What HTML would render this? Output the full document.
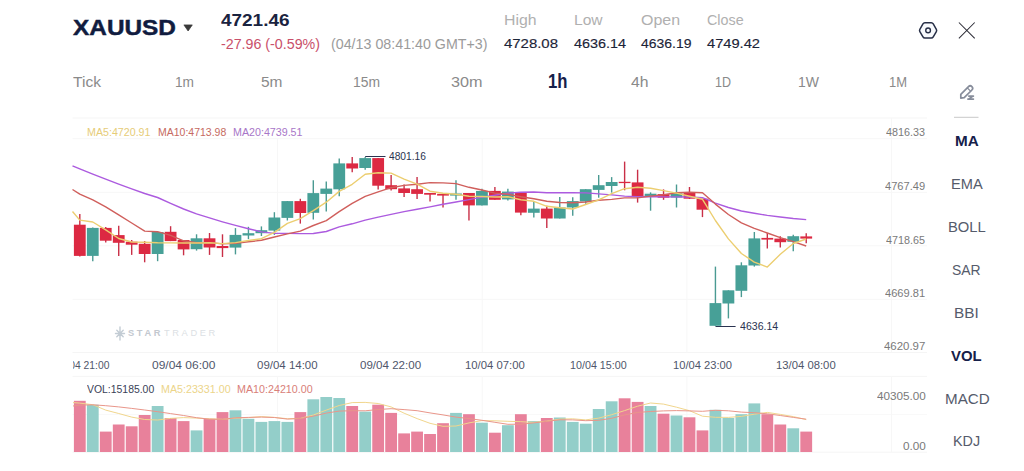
<!DOCTYPE html>
<html><head><meta charset="utf-8"><title>XAUUSD</title>
<style>
html,body{margin:0;padding:0;background:#fff;}
body{width:1024px;height:471px;position:relative;overflow:hidden;font-family:"Liberation Sans",sans-serif;}
span{position:absolute;white-space:nowrap;line-height:1;transform-origin:0 0;display:block;}
svg{position:absolute;left:0;top:0;}
</style></head><body>
<svg width="1024" height="471" viewBox="0 0 1024 471">
<line x1="72.5" y1="138.7" x2="927" y2="138.7" stroke="#f7f7f7" stroke-width="1"/>
<line x1="72.5" y1="192.3" x2="927" y2="192.3" stroke="#f7f7f7" stroke-width="1"/>
<line x1="72.5" y1="245.8" x2="927" y2="245.8" stroke="#f7f7f7" stroke-width="1"/>
<line x1="72.5" y1="299.3" x2="927" y2="299.3" stroke="#f7f7f7" stroke-width="1"/>
<line x1="72.5" y1="118" x2="927" y2="118" stroke="#f5f5f5" stroke-width="1"/>
<line x1="72.5" y1="352.5" x2="927" y2="352.5" stroke="#f5f5f5" stroke-width="1"/>
<line x1="72.5" y1="376.4" x2="927" y2="376.4" stroke="#f5f5f5" stroke-width="1"/>
<line x1="72.5" y1="452.2" x2="927" y2="452.2" stroke="#f5f5f5" stroke-width="1"/>
<line x1="72.5" y1="414.4" x2="927" y2="414.4" stroke="#f9f9f9" stroke-width="1"/>
<line x1="277.5" y1="138.7" x2="277.5" y2="352.5" stroke="#f7f7f7" stroke-width="1"/>
<line x1="277.5" y1="376.4" x2="277.5" y2="452" stroke="#f7f7f7" stroke-width="1"/>
<line x1="482.2" y1="138.7" x2="482.2" y2="352.5" stroke="#f7f7f7" stroke-width="1"/>
<line x1="482.2" y1="376.4" x2="482.2" y2="452" stroke="#f7f7f7" stroke-width="1"/>
<line x1="686.9" y1="138.7" x2="686.9" y2="352.5" stroke="#f7f7f7" stroke-width="1"/>
<line x1="686.9" y1="376.4" x2="686.9" y2="452" stroke="#f7f7f7" stroke-width="1"/>
<line x1="891.6" y1="118" x2="891.6" y2="352.5" stroke="#f7f7f7" stroke-width="1"/>
<line x1="891.6" y1="376.4" x2="891.6" y2="452" stroke="#f7f7f7" stroke-width="1"/>
<line x1="79.80" y1="214.1" x2="79.80" y2="256.5" stroke="#c92f47" stroke-width="1.4"/>
<rect x="73.90" y="224.7" width="11.8" height="31.2" fill="#dc2942"/>
<line x1="92.77" y1="227.5" x2="92.77" y2="261.3" stroke="#4a9a92" stroke-width="1.4"/>
<rect x="86.87" y="227.9" width="11.8" height="28.0" fill="#47a097"/>
<line x1="105.74" y1="227.0" x2="105.74" y2="242.6" stroke="#c92f47" stroke-width="1.4"/>
<rect x="99.84" y="227.9" width="11.8" height="12.8" fill="#dc2942"/>
<line x1="118.72" y1="225.8" x2="118.72" y2="255.9" stroke="#c92f47" stroke-width="1.4"/>
<rect x="112.82" y="235.1" width="11.8" height="7.7" fill="#dc2942"/>
<line x1="131.69" y1="240.0" x2="131.69" y2="254.9" stroke="#c92f47" stroke-width="1.4"/>
<rect x="125.79" y="241.7" width="11.8" height="3.0" fill="#dc2942"/>
<line x1="144.66" y1="241.0" x2="144.66" y2="262.3" stroke="#c92f47" stroke-width="1.4"/>
<rect x="138.76" y="243.8" width="11.8" height="10.2" fill="#dc2942"/>
<line x1="157.63" y1="232.0" x2="157.63" y2="261.2" stroke="#4a9a92" stroke-width="1.4"/>
<rect x="151.73" y="232.0" width="11.8" height="22.0" fill="#47a097"/>
<line x1="170.60" y1="226.2" x2="170.60" y2="241.1" stroke="#c92f47" stroke-width="1.4"/>
<rect x="164.70" y="231.8" width="11.8" height="9.3" fill="#dc2942"/>
<line x1="183.58" y1="240.0" x2="183.58" y2="255.3" stroke="#c92f47" stroke-width="1.4"/>
<rect x="177.68" y="240.0" width="11.8" height="9.4" fill="#dc2942"/>
<line x1="196.55" y1="234.3" x2="196.55" y2="250.6" stroke="#4a9a92" stroke-width="1.4"/>
<rect x="190.65" y="238.3" width="11.8" height="10.9" fill="#47a097"/>
<line x1="209.52" y1="233.0" x2="209.52" y2="254.9" stroke="#c92f47" stroke-width="1.4"/>
<rect x="203.62" y="238.3" width="11.8" height="9.2" fill="#dc2942"/>
<line x1="222.49" y1="234.3" x2="222.49" y2="257.0" stroke="#c92f47" stroke-width="1.4"/>
<rect x="216.59" y="246.0" width="11.8" height="2.1" fill="#dc2942"/>
<line x1="235.46" y1="228.1" x2="235.46" y2="254.4" stroke="#4a9a92" stroke-width="1.4"/>
<rect x="229.56" y="234.9" width="11.8" height="12.7" fill="#47a097"/>
<line x1="248.44" y1="226.8" x2="248.44" y2="239.1" stroke="#4a9a92" stroke-width="1.4"/>
<rect x="242.54" y="233.2" width="11.8" height="2.3" fill="#47a097"/>
<line x1="261.41" y1="226.4" x2="261.41" y2="236.0" stroke="#4a9a92" stroke-width="1.4"/>
<rect x="255.51" y="230.2" width="11.8" height="3.0" fill="#47a097"/>
<line x1="274.38" y1="212.2" x2="274.38" y2="234.9" stroke="#4a9a92" stroke-width="1.4"/>
<rect x="268.48" y="217.5" width="11.8" height="13.1" fill="#47a097"/>
<line x1="287.35" y1="201.0" x2="287.35" y2="220.5" stroke="#4a9a92" stroke-width="1.4"/>
<rect x="281.45" y="201.1" width="11.8" height="16.8" fill="#47a097"/>
<line x1="300.32" y1="198.8" x2="300.32" y2="223.6" stroke="#c92f47" stroke-width="1.4"/>
<rect x="294.42" y="201.1" width="11.8" height="11.9" fill="#dc2942"/>
<line x1="313.30" y1="180.3" x2="313.30" y2="219.6" stroke="#4a9a92" stroke-width="1.4"/>
<rect x="307.40" y="193.1" width="11.8" height="19.7" fill="#47a097"/>
<line x1="326.27" y1="181.4" x2="326.27" y2="211.5" stroke="#4a9a92" stroke-width="1.4"/>
<rect x="320.37" y="188.6" width="11.8" height="5.3" fill="#47a097"/>
<line x1="339.24" y1="158.5" x2="339.24" y2="196.3" stroke="#4a9a92" stroke-width="1.4"/>
<rect x="333.34" y="163.4" width="11.8" height="25.9" fill="#47a097"/>
<line x1="352.21" y1="157.0" x2="352.21" y2="172.3" stroke="#c92f47" stroke-width="1.4"/>
<rect x="346.31" y="163.4" width="11.8" height="5.1" fill="#dc2942"/>
<line x1="365.18" y1="157.0" x2="365.18" y2="169.7" stroke="#4a9a92" stroke-width="1.4"/>
<rect x="359.28" y="158.1" width="11.8" height="9.9" fill="#47a097"/>
<line x1="378.16" y1="158.0" x2="378.16" y2="189.5" stroke="#c92f47" stroke-width="1.4"/>
<rect x="372.26" y="158.1" width="11.8" height="27.6" fill="#dc2942"/>
<line x1="391.13" y1="175.0" x2="391.13" y2="190.5" stroke="#c92f47" stroke-width="1.4"/>
<rect x="385.23" y="185.2" width="11.8" height="4.0" fill="#dc2942"/>
<line x1="404.10" y1="184.6" x2="404.10" y2="196.9" stroke="#c92f47" stroke-width="1.4"/>
<rect x="398.20" y="188.4" width="11.8" height="4.6" fill="#dc2942"/>
<line x1="417.07" y1="177.1" x2="417.07" y2="199.0" stroke="#c92f47" stroke-width="1.4"/>
<rect x="411.17" y="189.2" width="11.8" height="4.7" fill="#dc2942"/>
<line x1="430.04" y1="193.0" x2="430.04" y2="201.5" stroke="#c92f47" stroke-width="1.4"/>
<rect x="424.14" y="193.0" width="11.8" height="1.7" fill="#dc2942"/>
<line x1="443.02" y1="193.9" x2="443.02" y2="207.5" stroke="#c92f47" stroke-width="1.4"/>
<rect x="437.12" y="193.9" width="11.8" height="1.7" fill="#dc2942"/>
<line x1="455.99" y1="180.3" x2="455.99" y2="199.8" stroke="#4a9a92" stroke-width="1.4"/>
<rect x="450.09" y="193.5" width="11.8" height="2.1" fill="#47a097"/>
<line x1="468.96" y1="193.0" x2="468.96" y2="220.6" stroke="#c92f47" stroke-width="1.4"/>
<rect x="463.06" y="193.0" width="11.8" height="12.4" fill="#dc2942"/>
<line x1="481.93" y1="188.8" x2="481.93" y2="205.4" stroke="#4a9a92" stroke-width="1.4"/>
<rect x="476.03" y="190.9" width="11.8" height="14.5" fill="#47a097"/>
<line x1="494.90" y1="187.1" x2="494.90" y2="199.8" stroke="#c92f47" stroke-width="1.4"/>
<rect x="489.00" y="190.9" width="11.8" height="8.9" fill="#dc2942"/>
<line x1="507.88" y1="188.8" x2="507.88" y2="200.5" stroke="#4a9a92" stroke-width="1.4"/>
<rect x="501.98" y="191.6" width="11.8" height="7.8" fill="#47a097"/>
<line x1="520.85" y1="192.0" x2="520.85" y2="215.3" stroke="#c92f47" stroke-width="1.4"/>
<rect x="514.95" y="192.0" width="11.8" height="20.6" fill="#dc2942"/>
<line x1="533.82" y1="202.0" x2="533.82" y2="217.5" stroke="#4a9a92" stroke-width="1.4"/>
<rect x="527.92" y="208.6" width="11.8" height="4.2" fill="#47a097"/>
<line x1="546.79" y1="205.8" x2="546.79" y2="228.1" stroke="#c92f47" stroke-width="1.4"/>
<rect x="540.89" y="208.6" width="11.8" height="9.9" fill="#dc2942"/>
<line x1="559.76" y1="196.9" x2="559.76" y2="218.5" stroke="#4a9a92" stroke-width="1.4"/>
<rect x="553.86" y="207.5" width="11.8" height="11.0" fill="#47a097"/>
<line x1="572.74" y1="197.3" x2="572.74" y2="215.8" stroke="#4a9a92" stroke-width="1.4"/>
<rect x="566.84" y="201.1" width="11.8" height="6.4" fill="#47a097"/>
<line x1="585.71" y1="189.2" x2="585.71" y2="203.7" stroke="#4a9a92" stroke-width="1.4"/>
<rect x="579.81" y="189.2" width="11.8" height="12.3" fill="#47a097"/>
<line x1="598.68" y1="175.0" x2="598.68" y2="197.7" stroke="#4a9a92" stroke-width="1.4"/>
<rect x="592.78" y="185.2" width="11.8" height="4.7" fill="#47a097"/>
<line x1="611.65" y1="177.1" x2="611.65" y2="192.6" stroke="#4a9a92" stroke-width="1.4"/>
<rect x="605.75" y="182.0" width="11.8" height="4.0" fill="#47a097"/>
<line x1="624.62" y1="161.6" x2="624.62" y2="190.3" stroke="#c92f47" stroke-width="1.4"/>
<rect x="618.72" y="181.8" width="11.8" height="1.3" fill="#dc2942"/>
<line x1="637.60" y1="169.7" x2="637.60" y2="202.6" stroke="#c92f47" stroke-width="1.4"/>
<rect x="631.70" y="182.4" width="11.8" height="13.8" fill="#dc2942"/>
<line x1="650.57" y1="192.4" x2="650.57" y2="210.7" stroke="#4a9a92" stroke-width="1.4"/>
<rect x="644.67" y="193.7" width="11.8" height="2.5" fill="#47a097"/>
<line x1="663.54" y1="189.4" x2="663.54" y2="199.8" stroke="#c92f47" stroke-width="1.4"/>
<rect x="657.64" y="194.1" width="11.8" height="3.6" fill="#dc2942"/>
<line x1="676.51" y1="184.5" x2="676.51" y2="207.5" stroke="#4a9a92" stroke-width="1.4"/>
<rect x="670.61" y="193.2" width="11.8" height="4.4" fill="#47a097"/>
<line x1="689.48" y1="187.0" x2="689.48" y2="199.0" stroke="#c92f47" stroke-width="1.4"/>
<rect x="683.58" y="192.3" width="11.8" height="6.4" fill="#dc2942"/>
<line x1="702.46" y1="198.7" x2="702.46" y2="217.1" stroke="#c92f47" stroke-width="1.4"/>
<rect x="696.56" y="198.7" width="11.8" height="11.0" fill="#dc2942"/>
<line x1="715.43" y1="266.6" x2="715.43" y2="325.8" stroke="#4a9a92" stroke-width="1.4"/>
<rect x="709.53" y="303.1" width="11.8" height="22.7" fill="#47a097"/>
<line x1="728.40" y1="290.3" x2="728.40" y2="318.4" stroke="#4a9a92" stroke-width="1.4"/>
<rect x="722.50" y="290.3" width="11.8" height="13.2" fill="#47a097"/>
<line x1="741.37" y1="262.3" x2="741.37" y2="297.1" stroke="#4a9a92" stroke-width="1.4"/>
<rect x="735.47" y="265.3" width="11.8" height="25.5" fill="#47a097"/>
<line x1="754.34" y1="232.0" x2="754.34" y2="266.6" stroke="#4a9a92" stroke-width="1.4"/>
<rect x="748.44" y="238.4" width="11.8" height="27.1" fill="#47a097"/>
<line x1="767.32" y1="233.0" x2="767.32" y2="248.5" stroke="#c92f47" stroke-width="1.4"/>
<rect x="761.42" y="237.9" width="11.8" height="1.7" fill="#dc2942"/>
<line x1="780.29" y1="236.2" x2="780.29" y2="247.5" stroke="#c92f47" stroke-width="1.4"/>
<rect x="774.39" y="238.6" width="11.8" height="3.6" fill="#dc2942"/>
<line x1="793.26" y1="234.7" x2="793.26" y2="251.3" stroke="#4a9a92" stroke-width="1.4"/>
<rect x="787.36" y="236.2" width="11.8" height="5.6" fill="#47a097"/>
<line x1="806.23" y1="233.3" x2="806.23" y2="243.2" stroke="#c92f47" stroke-width="1.4"/>
<rect x="800.33" y="236.4" width="11.8" height="2.2" fill="#dc2942"/>
<rect x="73.90" y="400.8" width="11.8" height="51.2" fill="#e8819b"/>
<rect x="86.87" y="404.7" width="11.8" height="47.3" fill="#93cec9"/>
<rect x="99.84" y="431.6" width="11.8" height="20.4" fill="#e8819b"/>
<rect x="112.82" y="424.5" width="11.8" height="27.5" fill="#e8819b"/>
<rect x="125.79" y="426.3" width="11.8" height="25.7" fill="#e8819b"/>
<rect x="138.76" y="415.0" width="11.8" height="37.0" fill="#e8819b"/>
<rect x="151.73" y="406.0" width="11.8" height="46.0" fill="#93cec9"/>
<rect x="164.70" y="418.0" width="11.8" height="34.0" fill="#e8819b"/>
<rect x="177.68" y="421.1" width="11.8" height="30.9" fill="#e8819b"/>
<rect x="190.65" y="430.4" width="11.8" height="21.6" fill="#93cec9"/>
<rect x="203.62" y="418.8" width="11.8" height="33.2" fill="#e8819b"/>
<rect x="216.59" y="412.1" width="11.8" height="39.9" fill="#e8819b"/>
<rect x="229.56" y="410.3" width="11.8" height="41.7" fill="#93cec9"/>
<rect x="242.54" y="418.8" width="11.8" height="33.2" fill="#93cec9"/>
<rect x="255.51" y="421.9" width="11.8" height="30.1" fill="#93cec9"/>
<rect x="268.48" y="421.1" width="11.8" height="30.9" fill="#93cec9"/>
<rect x="281.45" y="421.9" width="11.8" height="30.1" fill="#93cec9"/>
<rect x="294.42" y="412.1" width="11.8" height="39.9" fill="#e8819b"/>
<rect x="307.40" y="399.3" width="11.8" height="52.7" fill="#93cec9"/>
<rect x="320.37" y="397.0" width="11.8" height="55.0" fill="#93cec9"/>
<rect x="333.34" y="398.0" width="11.8" height="54.0" fill="#93cec9"/>
<rect x="346.31" y="406.0" width="11.8" height="46.0" fill="#e8819b"/>
<rect x="359.28" y="411.6" width="11.8" height="40.4" fill="#93cec9"/>
<rect x="372.26" y="404.7" width="11.8" height="47.3" fill="#e8819b"/>
<rect x="385.23" y="412.9" width="11.8" height="39.1" fill="#e8819b"/>
<rect x="398.20" y="433.4" width="11.8" height="18.6" fill="#e8819b"/>
<rect x="411.17" y="431.6" width="11.8" height="20.4" fill="#e8819b"/>
<rect x="424.14" y="434.0" width="11.8" height="18.0" fill="#e8819b"/>
<rect x="437.12" y="423.2" width="11.8" height="28.8" fill="#e8819b"/>
<rect x="450.09" y="412.9" width="11.8" height="39.1" fill="#93cec9"/>
<rect x="463.06" y="414.2" width="11.8" height="37.8" fill="#e8819b"/>
<rect x="476.03" y="422.7" width="11.8" height="29.3" fill="#93cec9"/>
<rect x="489.00" y="432.7" width="11.8" height="19.3" fill="#e8819b"/>
<rect x="501.98" y="425.2" width="11.8" height="26.8" fill="#93cec9"/>
<rect x="514.95" y="414.2" width="11.8" height="37.8" fill="#e8819b"/>
<rect x="527.92" y="421.1" width="11.8" height="30.9" fill="#93cec9"/>
<rect x="540.89" y="418.0" width="11.8" height="34.0" fill="#e8819b"/>
<rect x="553.86" y="417.5" width="11.8" height="34.5" fill="#93cec9"/>
<rect x="566.84" y="421.9" width="11.8" height="30.1" fill="#93cec9"/>
<rect x="579.81" y="423.7" width="11.8" height="28.3" fill="#93cec9"/>
<rect x="592.78" y="409.0" width="11.8" height="43.0" fill="#93cec9"/>
<rect x="605.75" y="401.3" width="11.8" height="50.7" fill="#93cec9"/>
<rect x="618.72" y="398.3" width="11.8" height="53.7" fill="#e8819b"/>
<rect x="631.70" y="401.9" width="11.8" height="50.1" fill="#e8819b"/>
<rect x="644.67" y="406.0" width="11.8" height="46.0" fill="#93cec9"/>
<rect x="657.64" y="413.7" width="11.8" height="38.3" fill="#e8819b"/>
<rect x="670.61" y="415.5" width="11.8" height="36.5" fill="#93cec9"/>
<rect x="683.58" y="417.3" width="11.8" height="34.7" fill="#e8819b"/>
<rect x="696.56" y="430.4" width="11.8" height="21.6" fill="#e8819b"/>
<rect x="709.53" y="409.8" width="11.8" height="42.2" fill="#93cec9"/>
<rect x="722.50" y="418.0" width="11.8" height="34.0" fill="#93cec9"/>
<rect x="735.47" y="414.2" width="11.8" height="37.8" fill="#93cec9"/>
<rect x="748.44" y="403.4" width="11.8" height="48.6" fill="#93cec9"/>
<rect x="761.42" y="414.2" width="11.8" height="37.8" fill="#e8819b"/>
<rect x="774.39" y="424.5" width="11.8" height="27.5" fill="#e8819b"/>
<rect x="787.36" y="428.3" width="11.8" height="23.7" fill="#93cec9"/>
<rect x="800.33" y="431.6" width="11.8" height="20.4" fill="#e8819b"/>
<polyline points="72.5,165.8 79.8,168.8 92.8,174.1 105.7,179.2 118.7,184.1 131.7,188.9 144.7,193.5 157.6,197.5 170.6,203.4 183.6,209.0 196.5,213.9 209.5,217.9 222.5,221.8 235.5,225.4 248.4,228.7 261.4,231.9 274.4,233.4 287.4,233.4 300.3,233.6 313.3,233.5 326.3,231.5 339.2,226.9 352.2,223.8 365.2,220.1 378.2,217.1 391.1,214.4 404.1,211.6 417.1,209.3 430.0,206.9 443.0,204.2 456.0,202.0 469.0,199.6 481.9,197.1 494.9,195.2 507.9,193.1 520.8,192.2 533.8,192.0 546.8,192.7 559.8,192.6 572.7,192.8 585.7,192.9 598.7,193.9 611.7,194.9 624.6,196.1 637.6,196.7 650.6,196.5 663.5,196.9 676.5,196.9 689.5,197.0 702.5,197.7 715.4,203.2 728.4,207.5 741.4,211.0 754.3,213.2 767.3,215.4 780.3,217.0 793.3,218.5 806.2,219.6" fill="none" stroke="#ac5bdf" stroke-width="1.4" stroke-linejoin="round"/>
<polyline points="72.5,189.5 79.8,194.1 92.8,199.9 105.7,206.9 118.7,214.9 131.7,223.0 144.7,231.1 157.6,231.7 170.6,235.3 183.6,240.8 196.5,242.7 209.5,242.6 222.5,243.9 235.5,243.2 248.4,241.8 261.4,240.3 274.4,237.0 287.4,233.9 300.3,231.1 313.3,225.5 326.3,220.6 339.2,211.7 352.2,203.4 365.2,196.4 378.2,191.8 391.1,187.7 404.1,185.4 417.1,184.2 430.0,182.6 443.0,182.9 456.0,183.6 469.0,187.3 481.9,190.0 494.9,193.1 507.9,194.3 520.8,196.7 533.8,198.8 546.8,201.2 559.8,202.5 572.7,202.7 585.7,202.0 598.7,200.2 611.7,199.4 624.6,197.9 637.6,197.9 650.6,196.1 663.5,194.8 676.5,192.7 689.5,192.2 702.5,192.7 715.4,204.1 728.4,214.5 741.4,222.8 754.3,228.4 767.3,233.0 780.3,237.6 793.3,241.7 806.2,246.0" fill="none" stroke="#d05f5c" stroke-width="1.4" stroke-linejoin="round"/>
<polyline points="72.5,211.5 79.8,220.1 92.8,222.0 105.7,229.8 118.7,238.5 131.7,242.0 144.7,242.2 157.6,242.8 170.6,242.9 183.6,243.0 196.5,243.0 209.5,242.7 222.5,243.6 235.5,242.6 248.4,240.5 261.4,238.7 274.4,232.4 287.4,223.4 300.3,218.7 313.3,210.7 326.3,202.2 339.2,191.4 352.2,184.3 365.2,174.2 378.2,172.8 391.1,173.1 404.1,179.1 417.1,184.2 430.0,191.2 443.0,193.2 456.0,194.2 469.0,196.3 481.9,196.5 494.9,197.0 507.9,196.7 520.8,199.8 533.8,201.3 546.8,206.3 559.8,207.7 572.7,209.0 585.7,204.5 598.7,199.9 611.7,193.7 624.6,188.7 637.6,187.2 650.6,188.2 663.5,190.6 676.5,193.1 689.5,196.2 702.5,199.3 715.4,220.5 728.4,238.9 741.4,253.5 754.3,262.1 767.3,267.1 780.3,254.3 793.3,243.5 806.2,239.0" fill="none" stroke="#ecce70" stroke-width="1.4" stroke-linejoin="round"/>
<polyline points="73.0,402.6 79.8,403.1 92.8,404.7 105.7,410.1 118.7,413.5 131.7,417.1 144.7,419.5 157.6,420.0 170.6,418.4 183.6,417.6 196.5,418.1 209.5,418.8 222.5,419.3 235.5,418.1 248.4,417.6 261.4,416.6 274.4,417.4 287.4,418.7 300.3,418.4 313.3,415.0 326.3,410.1 339.2,405.5 352.2,402.6 365.2,402.4 378.2,403.5 391.1,406.9 404.1,413.2 417.1,418.6 430.0,423.3 443.0,426.3 456.0,426.0 469.0,422.9 481.9,420.6 494.9,420.8 507.9,421.3 520.8,421.7 533.8,422.4 546.8,421.1 559.8,419.1 572.7,418.8 585.7,419.9 598.7,418.1 611.7,414.7 624.6,410.6 637.6,406.2 650.6,403.0 663.5,404.1 676.5,407.2 689.5,410.7 702.5,416.2 715.4,417.3 728.4,417.4 741.4,416.4 754.3,414.2 767.3,412.4 780.3,414.4 793.3,416.6 806.2,419.6" fill="none" stroke="#f1d68d" stroke-width="1.0" stroke-linejoin="round"/>
<polyline points="73.0,406.0 79.8,405.1 92.8,404.8 105.7,405.7 118.7,406.9 131.7,408.4 144.7,410.0 157.6,411.7 170.6,413.6 183.6,415.5 196.5,417.7 209.5,419.2 222.5,419.4 235.5,417.8 248.4,417.4 261.4,417.1 274.4,417.5 287.4,419.1 300.3,418.5 313.3,416.2 326.3,413.1 339.2,411.1 352.2,410.7 365.2,410.8 378.2,409.5 391.1,408.7 404.1,409.6 417.1,410.7 430.0,412.9 443.0,414.9 456.0,417.1 469.0,418.6 481.9,420.3 494.9,422.3 507.9,424.3 520.8,424.2 533.8,422.9 546.8,421.3 559.8,419.8 572.7,419.9 585.7,420.7 598.7,420.3 611.7,418.3 624.6,414.9 637.6,412.4 650.6,411.5 663.5,410.9 676.5,410.6 689.5,410.9 702.5,411.3 715.4,410.3 728.4,410.8 741.4,412.1 754.3,412.7 767.3,413.8 780.3,415.5 793.3,417.4 806.2,419.2" fill="none" stroke="#e9968a" stroke-width="1.0" stroke-linejoin="round"/>
<line x1="365.2" y1="156.5" x2="385.5" y2="156.5" stroke="#2b3350" stroke-width="1"/>
<line x1="715.5" y1="326.5" x2="735.6" y2="326.5" stroke="#2b3350" stroke-width="1"/>
<path d="M183.9 24.9 L192.3 24.9 L188.1 31.0 Z" fill="#3a3a3a" stroke="#3a3a3a" stroke-width="0.7" stroke-linejoin="round"/>
<path d="M919.85 31.53 Q919.20 30.40 919.85 29.27 L922.95 23.93 Q923.60 22.80 924.90 22.80 L931.30 22.80 Q932.60 22.80 933.25 23.93 L936.35 29.27 Q937.00 30.40 936.35 31.53 L933.25 36.87 Q932.60 38.00 931.30 38.00 L924.90 38.00 Q923.60 38.00 922.95 36.87 Z" fill="#f8fafd" stroke="#272f47" stroke-width="1.5" stroke-linejoin="round"/>
<circle cx="928.1" cy="30.4" r="2.35" fill="none" stroke="#272f47" stroke-width="1.4"/>
<path d="M958.9 22.5 L974.7 38.3 M974.7 22.5 L958.9 38.3" stroke="#2c2c36" stroke-width="1.05" fill="none"/>
<g stroke="#878d9b" stroke-width="1.7" fill="none" stroke-linejoin="round" stroke-linecap="round"><path d="M960.8 98.2 L960.8 94.3 L968.5 86.6 A2.4 2.4 0 0 1 971.9 90.0 L964.2 97.7 Z"/><path d="M967.4 88.0 L970.6 91.2" stroke-width="1.2"/><path d="M968.8 96.1 L973.4 96.1 M967.9 99.1 L973.4 99.1 M972.6 96.3 L969.0 98.9" stroke-width="1.7"/></g>
<line x1="954" y1="117.3" x2="978.5" y2="117.3" stroke="#c8c8c8" stroke-width="1"/>
<g stroke="#c3ccd4" stroke-width="1.4" stroke-linecap="round"><path d="M120 327 L120 340 M115.5 333.5 L124.5 333.5 M116.8 330.3 L123.2 336.7 M123.2 330.3 L116.8 336.7"/></g>
</svg>
<span id="t0" style="left:73px;top:17.04px;font-size:22.4px;color:#111c3f;font-weight:700;transform:scaleX(1.0892);-webkit-text-stroke:0.45px #111c3f;">XAUUSD</span>
<span id="t1" style="left:221px;top:11.84px;font-size:17.2px;color:#1a2340;font-weight:700;transform:scaleX(1.1023);">4721.46</span>
<span id="t2" style="left:221px;top:36.94px;font-size:14.6px;color:#c9506a;font-weight:400;transform:scaleX(0.9763);">-27.96 (-0.59%)</span>
<span id="t3" style="left:331px;top:36.94px;font-size:14.6px;color:#9b9b9b;font-weight:400;transform:scaleX(0.9768);">(04/13 08:41:40 GMT+3)</span>
<span id="t4" style="left:504px;top:13.15px;font-size:14px;color:#b0b0b0;font-weight:400;transform:scaleX(1.1321);">High</span>
<span id="t5" style="left:504px;top:36.57px;font-size:13.5px;color:#1c2438;font-weight:400;transform:scaleX(1.1063);-webkit-text-stroke:0.15px #1c2438;">4728.08</span>
<span id="t6" style="left:574px;top:13.15px;font-size:14px;color:#b0b0b0;font-weight:400;transform:scaleX(1.1134);">Low</span>
<span id="t7" style="left:574px;top:36.57px;font-size:13.5px;color:#1c2438;font-weight:400;transform:scaleX(1.0653);-webkit-text-stroke:0.15px #1c2438;">4636.14</span>
<span id="t8" style="left:640.5px;top:13.15px;font-size:14px;color:#b0b0b0;font-weight:400;transform:scaleX(1.1416);">Open</span>
<span id="t9" style="left:640.5px;top:36.57px;font-size:13.5px;color:#1c2438;font-weight:400;transform:scaleX(1.0346);-webkit-text-stroke:0.15px #1c2438;">4636.19</span>
<span id="t10" style="left:707px;top:13.15px;font-size:14px;color:#b0b0b0;font-weight:400;transform:scaleX(1.0224);">Close</span>
<span id="t11" style="left:707px;top:36.57px;font-size:13.5px;color:#1c2438;font-weight:400;transform:scaleX(1.0858);-webkit-text-stroke:0.15px #1c2438;">4749.42</span>
<span id="t12" style="left:73px;top:74.98px;font-size:14.2px;color:#8a8a8a;font-weight:400;transform:scaleX(1.0987);">Tick</span>
<span id="t13" style="left:175px;top:74.98px;font-size:14.2px;color:#8a8a8a;font-weight:400;transform:scaleX(0.9635);">1m</span>
<span id="t14" style="left:261px;top:74.98px;font-size:14.2px;color:#8a8a8a;font-weight:400;transform:scaleX(1.0903);">5m</span>
<span id="t15" style="left:353px;top:74.98px;font-size:14.2px;color:#8a8a8a;font-weight:400;transform:scaleX(0.9779);">15m</span>
<span id="t16" style="left:450.5px;top:74.98px;font-size:14.2px;color:#8a8a8a;font-weight:400;transform:scaleX(1.1409);">30m</span>
<span id="t17" style="left:630.5px;top:74.98px;font-size:14.2px;color:#8a8a8a;font-weight:400;transform:scaleX(1.1089);">4h</span>
<span id="t18" style="left:715px;top:74.98px;font-size:14.2px;color:#8a8a8a;font-weight:400;transform:scaleX(0.8820);">1D</span>
<span id="t19" style="left:798px;top:74.98px;font-size:14.2px;color:#8a8a8a;font-weight:400;transform:scaleX(0.9868);">1W</span>
<span id="t20" style="left:889px;top:74.98px;font-size:14.2px;color:#8a8a8a;font-weight:400;transform:scaleX(0.9128);">1M</span>
<span id="t21" style="left:547.5px;top:72.21px;font-size:19.6px;color:#16204a;font-weight:700;transform:scaleX(0.8525);">1h</span>
<span id="t22" style="left:87px;top:126.52px;font-size:11.2px;color:#e6cc78;font-weight:400;transform:scaleX(0.9540);">MA5:4720.91</span>
<span id="t23" style="left:157.5px;top:126.52px;font-size:11.2px;color:#c66a61;font-weight:400;transform:scaleX(0.9377);">MA10:4713.98</span>
<span id="t24" style="left:232.5px;top:126.52px;font-size:11.2px;color:#a876c8;font-weight:400;transform:scaleX(0.9549);">MA20:4739.51</span>
<span id="t25" style="left:389.4px;top:151.23px;font-size:10.6px;color:#2b3350;font-weight:400;transform:scaleX(0.9635);">4801.16</span>
<span id="t26" style="left:739.9px;top:321.23px;font-size:10.6px;color:#2b3350;font-weight:400;transform:scaleX(0.9975);">4636.14</span>
<span id="t27" style="left:886.4px;top:126.52px;font-size:11.2px;color:#7a7a7a;font-weight:400;transform:scaleX(0.9641);">4816.33</span>
<span id="t28" style="left:885.3px;top:180.92px;font-size:11.2px;color:#7a7a7a;font-weight:400;transform:scaleX(0.9913);">4767.49</span>
<span id="t29" style="left:886.4px;top:234.52px;font-size:11.2px;color:#7a7a7a;font-weight:400;transform:scaleX(0.9641);">4718.65</span>
<span id="t30" style="left:885.3px;top:288.12px;font-size:11.2px;color:#7a7a7a;font-weight:400;transform:scaleX(0.9913);">4669.81</span>
<span id="t31" style="left:884.1px;top:341.32px;font-size:11.2px;color:#7a7a7a;font-weight:400;transform:scaleX(1.0209);">4620.97</span>
<span id="t32" style="left:876.5px;top:391.32px;font-size:11.2px;color:#7a7a7a;font-weight:400;transform:scaleX(1.0477);">40305.00</span>
<span id="t33" style="left:902.5px;top:440.52px;font-size:11.2px;color:#7a7a7a;font-weight:400;transform:scaleX(1.0514);">0.00</span>
<span id="t34" style="left:151.9px;top:359.92px;font-size:11.2px;color:#4f566b;font-weight:400;transform:scaleX(1.0726);">09/04 06:00</span>
<span id="t35" style="left:256.9px;top:359.92px;font-size:11.2px;color:#4f566b;font-weight:400;transform:scaleX(1.0252);">09/04 14:00</span>
<span id="t36" style="left:360.4px;top:359.92px;font-size:11.2px;color:#4f566b;font-weight:400;transform:scaleX(1.0337);">09/04 22:00</span>
<span id="t37" style="left:464.9px;top:359.92px;font-size:11.2px;color:#4f566b;font-weight:400;transform:scaleX(1.0117);">10/04 07:00</span>
<span id="t38" style="left:570.2px;top:359.92px;font-size:11.2px;color:#4f566b;font-weight:400;transform:scaleX(0.9592);">10/04 15:00</span>
<span id="t39" style="left:672.9px;top:359.92px;font-size:11.2px;color:#4f566b;font-weight:400;transform:scaleX(0.9981);">10/04 23:00</span>
<span id="t40" style="left:776.3px;top:359.92px;font-size:11.2px;color:#4f566b;font-weight:400;transform:scaleX(1.0100);">13/04 08:00</span>
<span id="t41" style="left:87px;top:383.62px;font-size:11.2px;color:#3a4257;font-weight:400;transform:scaleX(0.9313);">VOL:15185.00</span>
<span id="t42" style="left:160.6px;top:383.62px;font-size:11.2px;color:#ecd58a;font-weight:400;transform:scaleX(0.9563);">MA5:23331.00</span>
<span id="t43" style="left:237.2px;top:383.62px;font-size:11.2px;color:#d98079;font-weight:400;transform:scaleX(0.9582);">MA10:24210.00</span>
<span id="t44" style="left:954.8px;top:133.94px;font-size:14.6px;color:#16204a;font-weight:700;transform:scaleX(1.0439);">MA</span>
<span id="t45" style="left:951px;top:176.74px;font-size:14.6px;color:#555b6b;font-weight:400;transform:scaleX(1.0024);">EMA</span>
<span id="t46" style="left:947.6px;top:219.94px;font-size:14.6px;color:#555b6b;font-weight:400;transform:scaleX(1.0126);">BOLL</span>
<span id="t47" style="left:952.2px;top:262.64px;font-size:14.6px;color:#555b6b;font-weight:400;transform:scaleX(0.9528);">SAR</span>
<span id="t48" style="left:954.1px;top:305.54px;font-size:14.6px;color:#555b6b;font-weight:400;transform:scaleX(1.0539);">BBI</span>
<span id="t49" style="left:951.4px;top:348.74px;font-size:14.6px;color:#16204a;font-weight:700;transform:scaleX(1.0200);">VOL</span>
<span id="t50" style="left:944.5px;top:391.54px;font-size:14.6px;color:#555b6b;font-weight:400;transform:scaleX(1.0399);">MACD</span>
<span id="t51" style="left:952.9px;top:434.34px;font-size:14.6px;color:#555b6b;font-weight:400;transform:scaleX(0.9827);">KDJ</span>
<span id="t52" style="left:128.4px;top:329.11px;font-size:9.2px;color:#c3c8cf;font-weight:700;transform:scaleX(1.0076);letter-spacing:2.6px;">STAR</span>
<span id="t53" style="left:163.8px;top:329.11px;font-size:9.2px;color:#dcdfe4;font-weight:400;transform:scaleX(1.0098);letter-spacing:2.6px;">TRADER</span>
<div style="position:absolute;left:72.5px;top:355px;width:60px;height:20px;overflow:hidden"><span style="left:-17.4px;top:4.92px;font-size:11.2px;color:#4f566b;transform:scaleX(0.92)" id="clipx">08/04 21:00</span></div>
</body></html>
